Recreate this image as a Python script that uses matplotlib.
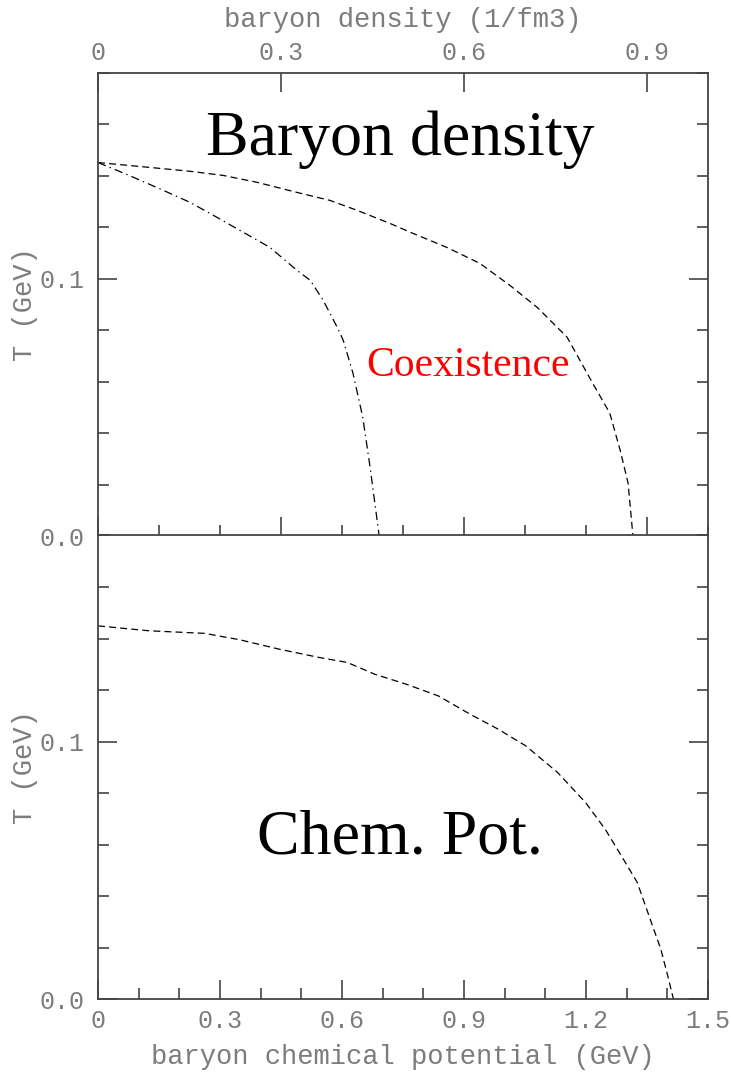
import matplotlib
matplotlib.use("Agg")
import matplotlib.pyplot as plt
from matplotlib.ticker import MultipleLocator, FuncFormatter

# top panel: T vs baryon density (1/fm3)
dens_dash = [0.0, 0.085, 0.151, 0.205, 0.261, 0.326, 0.380, 0.425, 0.479, 0.516,
             0.572, 0.626, 0.675, 0.720, 0.769, 0.811, 0.839, 0.856, 0.869, 0.877]
T_dash = [0.1452, 0.1433, 0.1418, 0.1402, 0.1375, 0.1336, 0.1305, 0.1266, 0.1215, 0.1177,
          0.1122, 0.1060, 0.0975, 0.0889, 0.0773, 0.0594, 0.0478, 0.0334, 0.0206, 0.0]

dens_dashdot = [0.0, 0.051, 0.107, 0.151, 0.195, 0.238, 0.282, 0.326, 0.348, 0.369,
                0.392, 0.402, 0.418, 0.434, 0.446, 0.461]
T_dashdot = [0.1452, 0.1402, 0.1344, 0.1297, 0.1239, 0.1181, 0.1122, 0.1033, 0.0994, 0.0917,
             0.0812, 0.0761, 0.0633, 0.0462, 0.0268, 0.0]

# bottom panel: T vs baryon chemical potential (GeV)
mu = [0.0, 0.125, 0.262, 0.349, 0.447, 0.545, 0.613, 0.681, 0.759, 0.837, 0.915,
      0.984, 1.052, 1.130, 1.199, 1.247, 1.287, 1.326, 1.355, 1.384, 1.403, 1.415]
T_mu = [0.1449, 0.1430, 0.1420, 0.1395, 0.1358, 0.1326, 0.1307, 0.1261, 0.1222, 0.1177, 0.1106,
        0.1048, 0.0983, 0.0880, 0.0763, 0.0660, 0.0556, 0.0453, 0.0323, 0.0194, 0.0078, 0.0]

plt.rcParams['lines.scale_dashes'] = False
mono = 'Liberation Mono'
serif = 'Liberation Serif'
gray = '#7c7c7c'
spine_c = '#444444'

fig = plt.figure(figsize=(7.31, 10.74), dpi=100)
ax1 = fig.add_axes([0.1341, 0.5009, 0.8344, 0.4311])
ax2 = fig.add_axes([0.1341, 0.0698, 0.8344, 0.4316])

def fmt(v, pos):
    return '0' if abs(v) < 1e-9 else '%.1f' % v

for ax in (ax1, ax2):
    for s in ax.spines.values():
        s.set_color(spine_c)
        s.set_linewidth(1.3)
    ax.set_ylim(0, 0.18)
    ax.yaxis.set_major_locator(MultipleLocator(0.1))
    ax.yaxis.set_minor_locator(MultipleLocator(0.02))
    ax.yaxis.set_major_formatter(FuncFormatter(lambda v, p: '%.1f' % v))
    ax.xaxis.set_major_locator(MultipleLocator(0.3))
    ax.xaxis.set_minor_locator(MultipleLocator(0.1))
    ax.xaxis.set_major_formatter(FuncFormatter(fmt))
    ax.tick_params(which='both', direction='in', color=spine_c, width=1.2,
                   labelcolor=gray, labelsize=18, left=True, right=True)
    ax.tick_params(which='major', length=14)
    ax.tick_params(which='minor', length=8)
    ax.tick_params(axis='y', pad=10)
    for lab in ax.get_xticklabels() + ax.get_yticklabels():
        lab.set_fontfamily(mono)
    ax.set_ylabel('T (GeV)', fontfamily=mono, fontsize=19.5, color=gray, labelpad=1)

# top panel
ax1.set_xlim(0, 1.0)
ax1.tick_params(axis='x', top=True, bottom=True, labeltop=True, labelbottom=False, pad=6)
ax1.xaxis.set_label_position('top')
ax1.set_xlabel('baryon density (1/fm3)', fontfamily=mono, fontsize=19.5, color=gray, labelpad=10)
for lab in ax1.get_xticklabels(which='both'):
    lab.set_fontfamily(mono)
ax1.plot(dens_dash, T_dash, color='black', lw=0.9, dashes=(5, 3))
ax1.plot(dens_dashdot, T_dashdot, color='black', lw=0.9, dashes=(6, 3, 1, 3))
ax1.text(0.495, 0.823, 'Baryon density', transform=ax1.transAxes, ha='center', va='baseline',
         fontfamily=serif, fontsize=46, color='black')
ax1.text(0.607, 0.346, 'Coexistence', transform=ax1.transAxes, ha='center', va='baseline',
         fontfamily=serif, fontsize=30, color='red')

# bottom panel
ax2.set_xlim(0, 1.5)
ax2.tick_params(axis='x', top=False, bottom=True, pad=7)
ax2.set_xlabel('baryon chemical potential (GeV)', fontfamily=mono, fontsize=19.5, color=gray, labelpad=8)
ax2.plot(mu, T_mu, color='black', lw=0.9, dashes=(5, 3))
ax2.text(0.495, 0.315, 'Chem. Pot.', transform=ax2.transAxes, ha='center', va='baseline',
         fontfamily=serif, fontsize=46, color='black')

fig.savefig('out.png', dpi=100)
